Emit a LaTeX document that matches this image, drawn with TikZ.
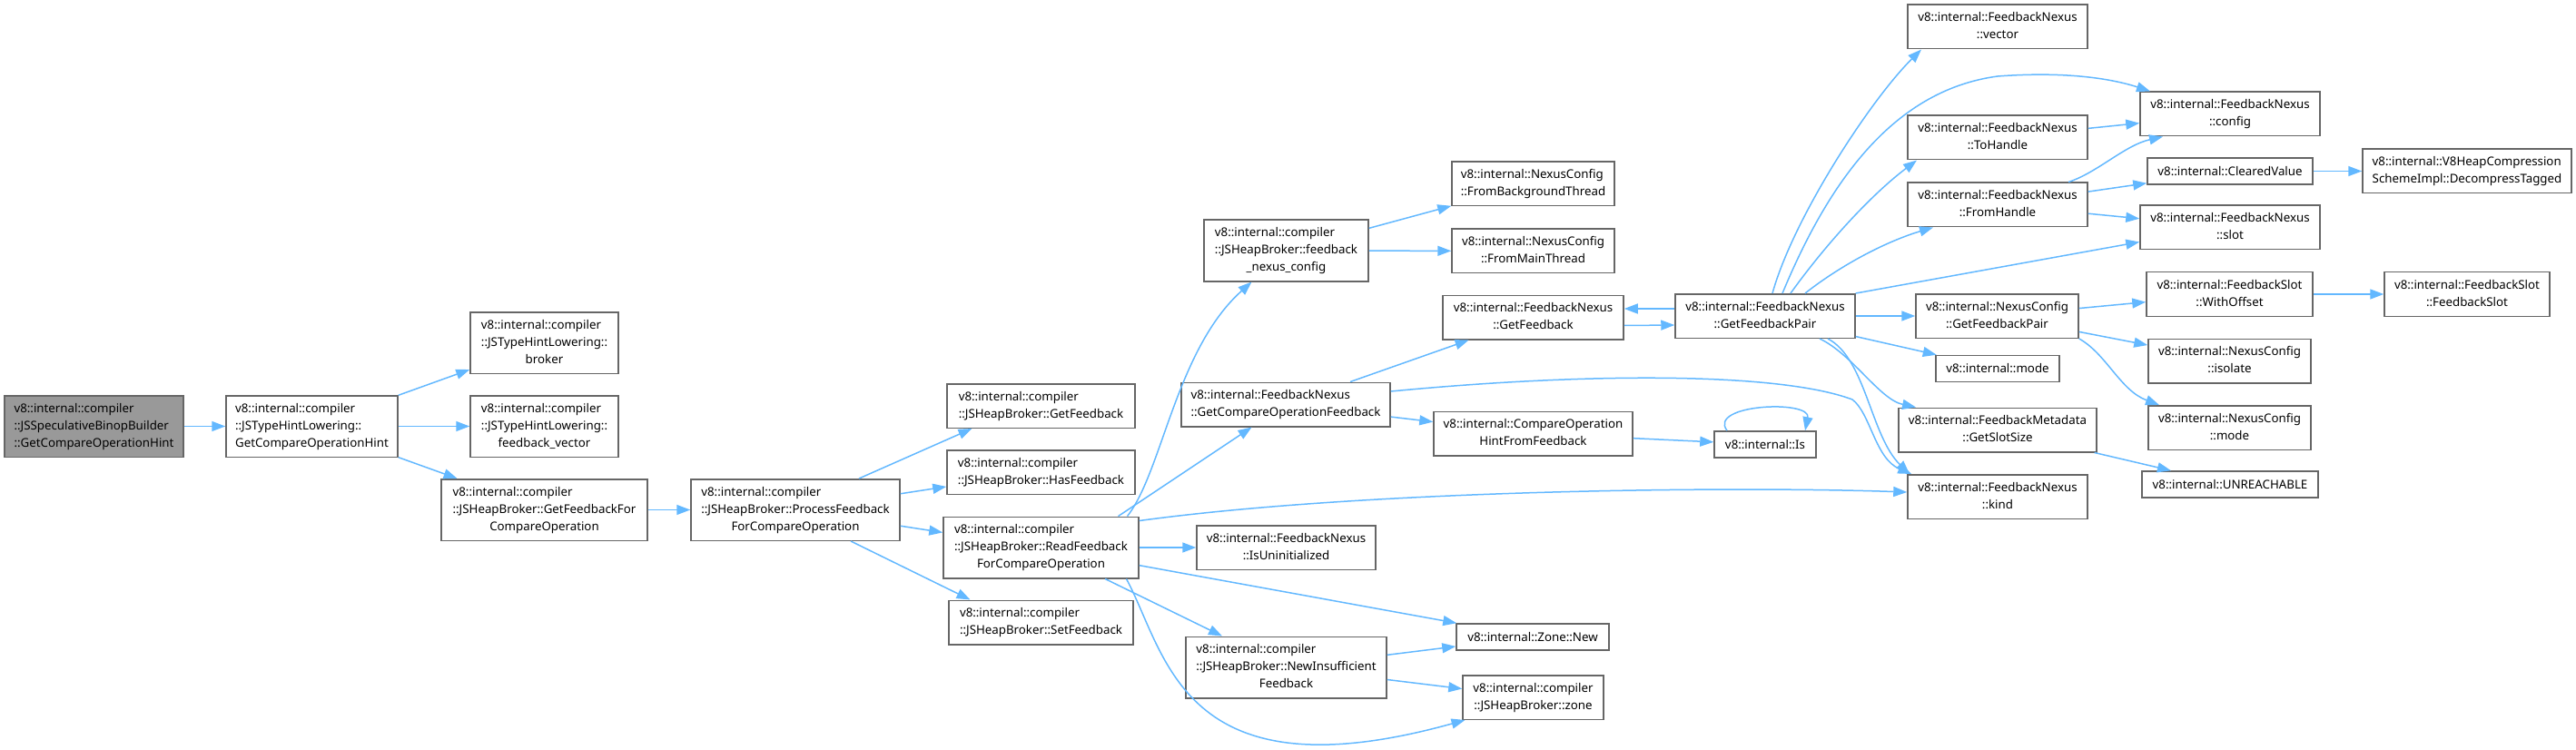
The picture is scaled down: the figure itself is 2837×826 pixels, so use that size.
\documentclass[tikz,border=0pt]{standalone}
\usepackage{fontspec}
\setmainfont{Noto Sans}
\usepackage{tikz}
\usetikzlibrary{arrows.meta}
\definecolor{clEdge}{HTML}{63B8FF}
\definecolor{clBorder}{HTML}{666666}
\definecolor{clRoot}{HTML}{999999}
\newcommand{\nodefont}{\fontsize{13.3}{19}\selectfont}
% all lines left, the last one centred (as doxygen does)
\newcommand{\fnlabel}[2]{\begin{tabular}{@{}l@{}}#1\\\multicolumn{1}{@{}c@{}}{#2}\end{tabular}}
\tikzset{
  fnbox/.style={rectangle, draw=clBorder, line width=1.5pt, fill=white,
                inner sep=0pt, font=\nodefont},
  rootbox/.style={fnbox, fill=clRoot},
  h1/.style={minimum height=29pt},
  h2/.style={minimum height=48.5pt},
  h3/.style={minimum height=67.5pt},
  call/.style={-{Triangle[length=15pt,width=11pt]}, line width=1.5pt, draw=clEdge},
}

\begin{document}
\begin{tikzpicture}[x=1pt, y=-1pt]
  \useasboundingbox (0,0) rectangle (2837,826);
  % caller and first level
  \node[rootbox, h3, minimum width=197pt] (root) at (103.5,469.5) {\fnlabel{v8::internal::compiler\\::JSSpeculativeBinopBuilder}{::GetCompareOperationHint}};
  \node[fnbox, h3, minimum width=189pt] (thlHint) at (343.5,469.5) {\fnlabel{v8::internal::compiler\\::JSTypeHintLowering::}{GetCompareOperationHint}};
  \node[fnbox, h3, minimum width=163pt] (thlBroker) at (599.5,377.5) {\fnlabel{v8::internal::compiler\\::JSTypeHintLowering::}{broker}};
  \node[fnbox, h3, minimum width=163pt] (thlVector) at (599.5,469.5) {\fnlabel{v8::internal::compiler\\::JSTypeHintLowering::}{feedback\_vector}};
  \node[fnbox, h3, minimum width=227pt] (hbCmpFb) at (599.5,561.5) {\fnlabel{v8::internal::compiler\\::JSHeapBroker::GetFeedbackFor}{CompareOperation}};
  \node[fnbox, h3, minimum width=230pt] (hbProcess) at (876,561.5) {\fnlabel{v8::internal::compiler\\::JSHeapBroker::ProcessFeedback}{ForCompareOperation}};
  % broker column
  \node[fnbox, h2, minimum width=207pt] (hbGetFb) at (1146.5,447) {\fnlabel{v8::internal::compiler}{::JSHeapBroker::GetFeedback}};
  \node[fnbox, h2, minimum width=207pt] (hbHasFb) at (1146.5,520) {\fnlabel{v8::internal::compiler}{::JSHeapBroker::HasFeedback}};
  \node[fnbox, h3, minimum width=215pt] (hbRead) at (1146.5,603) {\fnlabel{v8::internal::compiler\\::JSHeapBroker::ReadFeedback}{ForCompareOperation}};
  \node[fnbox, h2, minimum width=203pt] (hbSetFb) at (1146.5,685.5) {\fnlabel{v8::internal::compiler}{::JSHeapBroker::SetFeedback}};
  \node[fnbox, h3, minimum width=181pt] (hbNexusCfg) at (1416.5,276) {\fnlabel{v8::internal::compiler\\::JSHeapBroker::feedback}{\_nexus\_config}};
  \node[fnbox, h2, minimum width=230pt] (fnCmpFb) at (1416,445.5) {\fnlabel{v8::internal::FeedbackNexus}{::GetCompareOperationFeedback}};
  \node[fnbox, h2, minimum width=197pt] (fnUninit) at (1416.5,603) {\fnlabel{v8::internal::FeedbackNexus}{::IsUninitialized}};
  \node[fnbox, h3, minimum width=221pt] (hbInsuf) at (1416.5,735) {\fnlabel{v8::internal::compiler\\::JSHeapBroker::NewInsufficient}{Feedback}};
  \node[fnbox, h2, minimum width=179pt] (ncFromBg) at (1688.5,202.5) {\fnlabel{v8::internal::NexusConfig}{::FromBackgroundThread}};
  \node[fnbox, h2, minimum width=179pt] (ncFromMain) at (1688.5,276.5) {\fnlabel{v8::internal::NexusConfig}{::FromMainThread}};
  \node[fnbox, h2, minimum width=199pt] (fnGetFb) at (1688.5,349.5) {\fnlabel{v8::internal::FeedbackNexus}{::GetFeedback}};
  \node[fnbox, h2, minimum width=219pt] (cmpHint) at (1688.5,477.5) {\fnlabel{v8::internal::CompareOperation}{HintFromFeedback}};
  \node[fnbox, h1, minimum width=168pt] (zoneNew) at (1688,701.5) {v8::internal::Zone::New};
  \node[fnbox, h2, minimum width=155pt] (hbZone) at (1688.5,768) {\fnlabel{v8::internal::compiler}{::JSHeapBroker::zone}};
  \node[fnbox, h1, minimum width=112pt] (isFn) at (1944,489.5) {v8::internal::Is};
  \node[fnbox, h2, minimum width=198pt] (fnPair) at (1944,348) {\fnlabel{v8::internal::FeedbackNexus}{::GetFeedbackPair}};
  % nexus column
  \node[fnbox, h2, minimum width=198pt] (fnVector) at (2200,29.5) {\fnlabel{v8::internal::FeedbackNexus}{::vector}};
  \node[fnbox, h2, minimum width=198pt] (fnToHandle) at (2200,151.5) {\fnlabel{v8::internal::FeedbackNexus}{::ToHandle}};
  \node[fnbox, h2, minimum width=198pt] (fnFromHandle) at (2200,225.5) {\fnlabel{v8::internal::FeedbackNexus}{::FromHandle}};
  \node[fnbox, h2, minimum width=179pt] (ncPair) at (2199.5,348) {\fnlabel{v8::internal::NexusConfig}{::GetFeedbackPair}};
  \node[fnbox, h1, minimum width=136pt] (modeFn) at (2200,406) {v8::internal::mode};
  \node[fnbox, h2, minimum width=218pt] (mdSlotSize) at (2200,473.5) {\fnlabel{v8::internal::FeedbackMetadata}{::GetSlotSize}};
  \node[fnbox, h2, minimum width=198pt] (fnKind) at (2200,547) {\fnlabel{v8::internal::FeedbackNexus}{::kind}};
  \node[fnbox, h2, minimum width=198pt] (fnConfig) at (2456,125.5) {\fnlabel{v8::internal::FeedbackNexus}{::config}};
  \node[fnbox, h1, minimum width=182pt] (clearedVal) at (2456,188.5) {v8::internal::ClearedValue};
  \node[fnbox, h2, minimum width=198pt] (fnSlot) at (2456,250.5) {\fnlabel{v8::internal::FeedbackNexus}{::slot}};
  \node[fnbox, h2, minimum width=183pt] (fsOffset) at (2455.5,324) {\fnlabel{v8::internal::FeedbackSlot}{::WithOffset}};
  \node[fnbox, h2, minimum width=179pt] (ncIsolate) at (2455.5,397.5) {\fnlabel{v8::internal::NexusConfig}{::isolate}};
  \node[fnbox, h2, minimum width=179pt] (ncMode) at (2455.5,471) {\fnlabel{v8::internal::NexusConfig}{::mode}};
  \node[fnbox, h1, minimum width=194pt] (unreach) at (2456,533.5) {v8::internal::UNREACHABLE};
  \node[fnbox, h2, minimum width=230pt] (decomp) at (2717,188.5) {\fnlabel{v8::internal::V8HeapCompression}{SchemeImpl::DecompressTagged}};
  \node[fnbox, h2, minimum width=182pt] (fsSlot) at (2717,324) {\fnlabel{v8::internal::FeedbackSlot}{::FeedbackSlot}};
  % calls
  \draw[call] (root) -- (thlHint);
  \draw[call] (thlHint) -- (thlBroker);
  \draw[call] (thlHint) -- (thlVector);
  \draw[call] (thlHint) -- (hbCmpFb);
  \draw[call] (hbCmpFb) -- (hbProcess);
  \draw[call] ([xshift=70pt]hbProcess.north) -- ([xshift=-76pt]hbGetFb.south);
  \draw[call] (hbProcess) -- (hbHasFb);
  \draw[call] (hbProcess) -- (hbRead);
  \draw[call] ([xshift=61pt]hbProcess.south) -- ([xshift=-78pt]hbSetFb.north);
  \draw[call] ([xshift=95pt]hbRead.north) .. controls (1280,520) and (1295,385) .. ([xshift=-38pt]hbNexusCfg.south);
  \draw[call] ([xshift=85pt]hbRead.north) -- (fnCmpFb);
  \draw[call] ([yshift=-5pt]hbRead.north east) .. controls (1500,540) and (1900,535) .. ([yshift=5pt]fnKind.west);
  \draw[call] (hbRead) -- (fnUninit);
  \draw[call] (hbRead) -- (zoneNew);
  \draw[call] (hbRead) -- (hbInsuf);
  \draw[call] ([xshift=94pt]hbRead.south) .. controls (1285,720) and (1300,880) .. ([xshift=-75pt]hbZone.south);
  \draw[call] (hbNexusCfg) -- (ncFromBg);
  \draw[call] (hbNexusCfg) -- (ncFromMain);
  \draw[call] (fnCmpFb) -- (fnGetFb);
  \draw[call] (fnCmpFb) -- (cmpHint);
  \draw[call] ([yshift=14.5pt]fnCmpFb.east) .. controls (1750,410) and (1960,410) .. (2040,440)
    .. controls (2060,455) and (2065,505) .. ([xshift=5pt]fnKind.north west);
  \draw[call] (cmpHint) -- (isFn);
  \draw[call] ([xshift=-42pt]isFn.north) .. controls (1880,445) and (1995,440) .. ([xshift=44pt]isFn.north);
  \draw[call] (hbInsuf) -- (zoneNew);
  \draw[call] (hbInsuf) -- (hbZone);
  \draw[call] ([yshift=-9pt]fnGetFb.east) -- ([yshift=-10pt]fnPair.west);
  \draw[call] ([yshift=8pt]fnPair.west) -- ([yshift=9.5pt]fnGetFb.east);
  \draw[call] ([xshift=8pt]fnPair.north) .. controls (1975,240) and (2060,110) .. ([xshift=-84pt]fnVector.south);
  \draw[call] ([xshift=19pt]fnPair.north) .. controls (2010,210) and (2080,100) .. (2200,84)
    .. controls (2280,78) and (2330,88) .. ([xshift=-88pt]fnConfig.north);
  \draw[call] ([xshift=28pt]fnPair.north) .. controls (2010,270) and (2060,215) .. ([xshift=-89pt]fnToHandle.south);
  \draw[call] ([xshift=44pt]fnPair.north) .. controls (2030,290) and (2080,265) .. ([xshift=-71pt]fnFromHandle.south);
  \draw[call] (fnPair.north east) -- ([yshift=-16pt]fnSlot.west);
  \draw[call] (fnPair) -- (ncPair);
  \draw[call] (fnPair) -- (modeFn);
  \draw[call] ([xshift=60pt]fnPair.south) .. controls (2040,390) and (2070,440) .. ([xshift=-90pt]mdSlotSize.north);
  \draw[call] ([xshift=69pt]fnPair.south) .. controls (2055,395) and (2060,480) .. ([xshift=-97pt]fnKind.north);
  \draw[call] (fnToHandle) -- (fnConfig);
  \draw[call] ([xshift=78pt]fnFromHandle.north) .. controls (2310,190) and (2340,160) .. ([xshift=-74pt]fnConfig.south);
  \draw[call] (fnFromHandle) -- (clearedVal);
  \draw[call] (fnFromHandle) -- (fnSlot);
  \draw[call] (clearedVal) -- (decomp);
  \draw[call] (ncPair) -- (fsOffset);
  \draw[call] (ncPair) -- (ncIsolate);
  \draw[call] (ncPair.south east) .. controls (2320,390) and (2335,430) .. ([xshift=-77.5pt]ncMode.north);
  \draw[call] (fsOffset) -- (fsSlot);
  \draw[call] (mdSlotSize) -- (unreach);
\end{tikzpicture}
\end{document}
